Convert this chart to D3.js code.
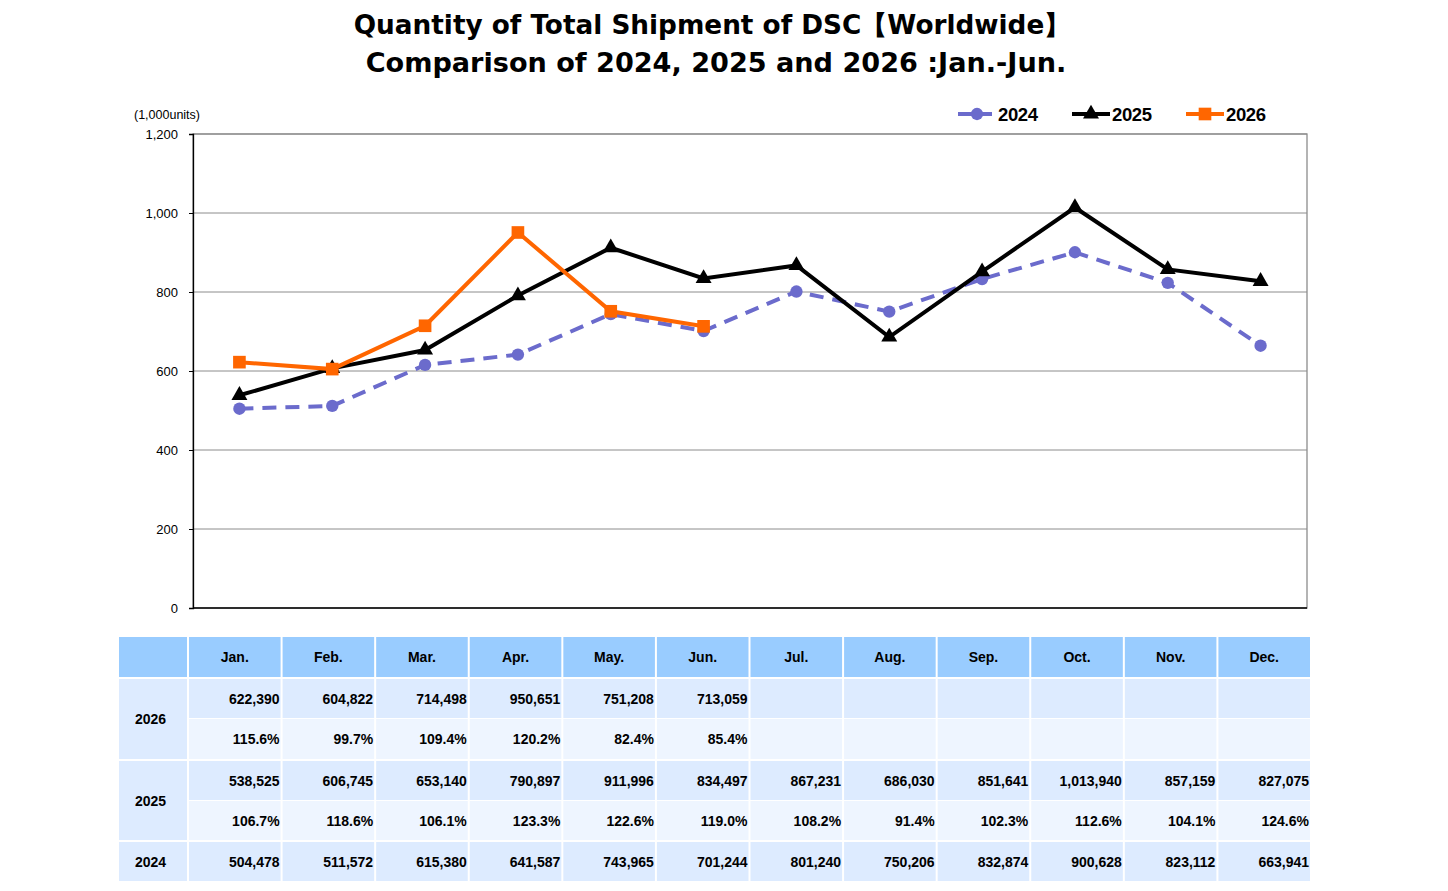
<!DOCTYPE html>
<html>
<head>
<meta charset="utf-8">
<script src="https://cdn.jsdelivr.net/npm/d3@7"></script>
<style>
  body { margin: 0; background: #fff; }
  #chart svg { display: block; }
</style>
</head>
<body>
<div id="chart"></div>
<script>
const width = 1448;
const height = 891;

const months = ["Jan.", "Feb.", "Mar.", "Apr.", "May.", "Jun.", "Jul.", "Aug.", "Sep.", "Oct.", "Nov.", "Dec."];
const years = ["2024", "2025", "2026"];
const values2024 = [504478, 511572, 615380, 641587, 743965, 701244, 801240, 750206, 832874, 900628, 823112, 663941];
const values2025 = [538525, 606745, 653140, 790897, 911996, 834497, 867231, 686030, 851641, 1013940, 857159, 827075];
const values2026 = [622390, 604822, 714498, 950651, 751208, 713059];
const pct2025 = ["106.7%", "118.6%", "106.1%", "123.3%", "122.6%", "119.0%", "108.2%", "91.4%", "102.3%", "112.6%", "104.1%", "124.6%"];
const pct2026 = ["115.6%", "99.7%", "109.4%", "120.2%", "82.4%", "85.4%"];
const yTicks = [0, 200, 400, 600, 800, 1000, 1200];

const colors = { "2024": "#6b6bcc", "2025": "#000000", "2026": "#ff6600" };

const plot = { left: 193, right: 1307, top: 134, bottom: 608 };

const svg = d3.select("#chart").append("svg")
  .attr("width", width)
  .attr("height", height);

// titulo
const title = svg.append("g")
  .attr("font-family", "'DejaVu Sans', Verdana, sans-serif")
  .attr("font-weight", "bold")
  .attr("text-anchor", "middle");
title.append("text").attr("x", 712).attr("y", 34).attr("font-size", 26.3)
  .text("Quantity of Total Shipment of DSC【Worldwide】");
title.append("text").attr("x", 716).attr("y", 72).attr("font-size", 27.1)
  .text("Comparison of 2024, 2025 and 2026 :Jan.-Jun.");

// escalas
const xScale = d3.scaleBand().domain(months).range([plot.left, plot.right]);
const yScale = d3.scaleLinear().domain([0, 1200]).range([plot.bottom, plot.top]);
const xc = (m) => xScale(m) + xScale.bandwidth() / 2;

// rejilla
svg.append("g")
  .selectAll("line")
  .data(yTicks.slice(1))
  .join("line")
  .attr("x1", plot.left).attr("x2", plot.right)
  .attr("y1", (d) => yScale(d)).attr("y2", (d) => yScale(d))
  .attr("stroke", "#8c8c8c").attr("stroke-width", 1);

svg.append("rect")
  .attr("x", plot.left).attr("y", plot.top)
  .attr("width", plot.right - plot.left).attr("height", plot.bottom - plot.top)
  .attr("fill", "none").attr("stroke", "#8c8c8c").attr("stroke-width", 1.3);

const yAxis = d3.axisLeft(yScale).tickValues(yTicks).tickSize(4).tickFormat(d3.format(","));
const yAxisG = svg.append("g").attr("transform", "translate(" + plot.left + ",0)").call(yAxis);
yAxisG.select(".domain").attr("stroke", "#000").attr("stroke-width", 1.3);
yAxisG.selectAll(".tick line").attr("stroke", "#000");
yAxisG.selectAll("text")
  .attr("font-family", "'Liberation Sans', Arial, sans-serif")
  .attr("font-size", 13)
  .attr("fill", "#000")
  .attr("x", -15);

svg.append("line")
  .attr("x1", plot.left).attr("x2", plot.right)
  .attr("y1", plot.bottom).attr("y2", plot.bottom)
  .attr("stroke", "#000").attr("stroke-width", 1.3);

svg.append("text")
  .attr("x", 134).attr("y", 119)
  .attr("font-family", "'Liberation Sans', Arial, sans-serif")
  .attr("font-size", 12.5)
  .text("(1,000units)");

// series
const series = [
  { year: "2024", values: values2024, dash: "14,9", symbol: d3.symbolCircle, size: 120 },
  { year: "2025", values: values2025, dash: null, symbol: d3.symbolTriangle, size: 110 },
  { year: "2026", values: values2026, dash: null, symbol: d3.symbolSquare, size: 160 },
];

const line = d3.line()
  .x((d) => xc(d.m))
  .y((d) => yScale(d.v / 1000));

series.forEach((s) => {
  const pts = s.values.map((v, i) => ({ m: months[i], v: v }));
  svg.append("path")
    .datum(pts)
    .attr("d", line)
    .attr("fill", "none")
    .attr("stroke", colors[s.year])
    .attr("stroke-width", 4)
    .attr("stroke-dasharray", s.dash);
  svg.append("g")
    .selectAll("path")
    .data(pts)
    .join("path")
    .attr("d", d3.symbol().type(s.symbol).size(s.size))
    .attr("transform", (d) => "translate(" + xc(d.m) + "," + yScale(d.v / 1000) + ")")
    .attr("fill", colors[s.year]);
});

// leyenda
const legendX = [958, 1072, 1186];
series.forEach((s, i) => {
  const g = svg.append("g").attr("transform", "translate(" + legendX[i] + ",114)");
  g.append("line")
    .attr("x1", 0).attr("x2", 38).attr("y1", 0).attr("y2", 0)
    .attr("stroke", colors[s.year]).attr("stroke-width", 4)
    .attr("stroke-dasharray", s.dash ? "14,6" : null);
  g.append("path")
    .attr("d", d3.symbol().type(s.symbol).size(s.size))
    .attr("transform", "translate(19,0)")
    .attr("fill", colors[s.year]);
  g.append("text")
    .attr("x", 40).attr("y", 7)
    .attr("font-family", "'Liberation Sans Narrow', 'Liberation Sans', Arial, sans-serif")
    .attr("font-weight", "bold")
    .attr("font-size", 18.5)
    .attr("textLength", 40)
    .text(s.year);
});

// tabla
const tbl = { left: 119, firstW: 68, right: 1311 };
const colScale = d3.scaleBand().domain(months).range([tbl.left + tbl.firstW + 1, tbl.right]);
const rows = [
  { top: 637, h: 40, fill: "#99ccff" },
  { top: 679, h: 39, fill: "#ddebff" },
  { top: 719, h: 40, fill: "#eef5ff" },
  { top: 761, h: 39, fill: "#ddebff" },
  { top: 801, h: 39, fill: "#eef5ff" },
  { top: 842, h: 39, fill: "#ddebff" },
];
const fmt = d3.format(",");
const rowTexts = [
  months,
  months.map((m, i) => (values2026[i] != null ? fmt(values2026[i]) : "")),
  months.map((m, i) => pct2026[i] || ""),
  values2025.map(fmt),
  pct2025,
  values2024.map(fmt),
];

const tg = svg.append("g")
  .attr("font-family", "'Liberation Sans', Arial, sans-serif")
  .attr("font-weight", "bold")
  .attr("font-size", 14);

rows.forEach((r, ri) => {
  tg.append("g")
    .selectAll("rect")
    .data(months)
    .join("rect")
    .attr("x", (m) => colScale(m) + 1)
    .attr("y", r.top)
    .attr("width", colScale.bandwidth() - 2)
    .attr("height", r.h)
    .attr("fill", r.fill);
  tg.append("g")
    .selectAll("text")
    .data(months)
    .join("text")
    .attr("x", (m) => (ri === 0 ? colScale(m) + colScale.bandwidth() / 2 : colScale(m) + colScale.bandwidth() - 2))
    .attr("y", r.top + r.h / 2 + 5)
    .attr("text-anchor", ri === 0 ? "middle" : "end")
    .text((m, i) => rowTexts[ri][i]);
});

// columna de años
const yearCells = [
  { label: "", top: 637, h: 40, fill: "#99ccff" },
  { label: "2026", top: 679, h: 80, fill: "#ddebff" },
  { label: "2025", top: 761, h: 79, fill: "#ddebff" },
  { label: "2024", top: 842, h: 39, fill: "#ddebff" },
];
yearCells.forEach((c) => {
  tg.append("rect")
    .attr("x", tbl.left).attr("y", c.top)
    .attr("width", tbl.firstW).attr("height", c.h)
    .attr("fill", c.fill);
  tg.append("text")
    .attr("x", tbl.left + 16).attr("y", c.top + c.h / 2 + 5)
    .text(c.label);
});
</script>
</body>
</html>
